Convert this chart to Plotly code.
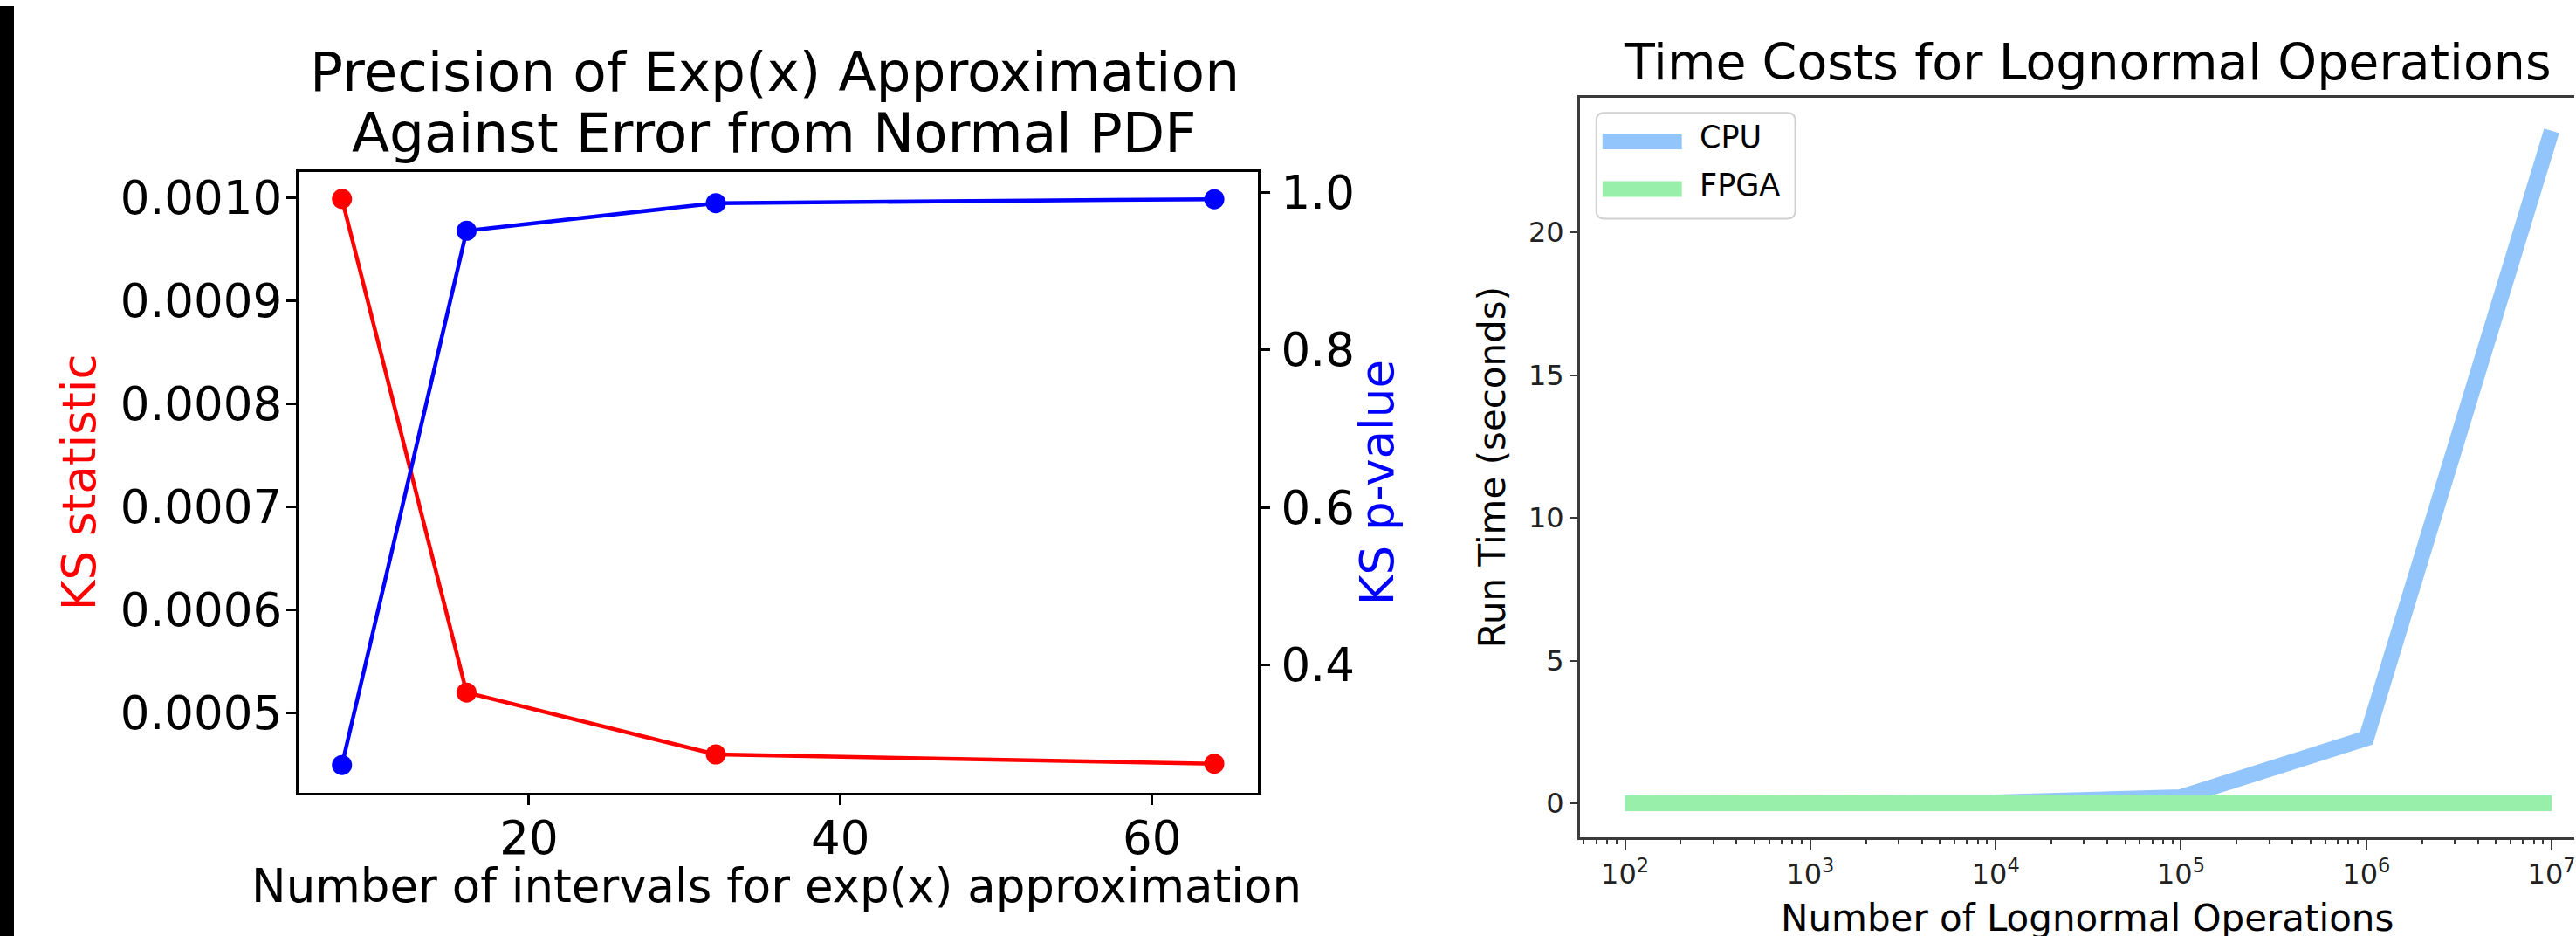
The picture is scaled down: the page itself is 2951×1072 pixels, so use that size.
import plotly.graph_objects as go

W, H = 2951, 1072

# ---------------- data ----------------
# Left chart: precision of exp(x) approximation
intervals = [8, 16, 32, 64]
ks_statistic = [0.000999, 0.000520, 0.000460, 0.000451]
ks_pvalue = [0.273, 0.951, 0.986, 0.991]

left_xticks = [20, 40, 60]
left_yticks = [0.0005, 0.0006, 0.0007, 0.0008, 0.0009, 0.0010]
left_y2ticks = [0.4, 0.6, 0.8, 1.0]

# Right chart: time costs
operations = [1e2, 1e3, 1e4, 1e5, 1e6, 1e7]
cpu_time = [0.0003, 0.003, 0.03, 0.22, 2.28, 23.55]
fpga_time = [0.001, 0.001, 0.001, 0.001, 0.002, 0.004]

ops_tickvals = [1e2, 1e3, 1e4, 1e5, 1e6, 1e7]
ops_ticktext = ["10<sup>2</sup>", "10<sup>3</sup>", "10<sup>4</sup>",
                "10<sup>5</sup>", "10<sup>6</sup>", "10<sup>7</sup>"]
ops_minor = [m * 10 ** e for e in range(1, 8) for m in range(2, 10)]
time_ticks = [0, 5, 10, 15, 20]

# ---------------- style ----------------
FONT = "DejaVu Sans"
RED = "#ff0000"
BLUE = "#0000ff"
CPU_C = "#92c5fc"
FPGA_C = "#98efa9"
SPINE = "#3a3a3a"


def px(x):
    return x / W


def py(y):
    return 1 - y / H


fig = go.Figure()

fig.add_trace(go.Scatter(x=intervals, y=ks_statistic, mode="lines+markers",
                         line=dict(color=RED, width=4.5),
                         marker=dict(color=RED, size=23),
                         xaxis="x", yaxis="y", name="KS statistic"))
fig.add_trace(go.Scatter(x=intervals, y=ks_pvalue, mode="lines+markers",
                         line=dict(color=BLUE, width=4.5),
                         marker=dict(color=BLUE, size=23),
                         xaxis="x", yaxis="y2", name="KS p-value"))

fig.add_trace(go.Scatter(x=operations, y=cpu_time, mode="lines",
                         line=dict(color=CPU_C, width=18),
                         xaxis="x3", yaxis="y3", name="CPU"))
fig.add_trace(go.Scatter(x=operations, y=fpga_time, mode="lines",
                         line=dict(color=FPGA_C, width=18),
                         xaxis="x3", yaxis="y3", name="FPGA"))

left_tick_font = dict(family=FONT, size=53, color="black")
right_tick_font = dict(family=FONT, size=32, color="#222222")

fig.update_layout(
    width=W, height=H,
    margin=dict(l=0, r=0, t=0, b=0),
    paper_bgcolor="white", plot_bgcolor="white",
    showlegend=False,
    font=dict(family=FONT),
    xaxis=dict(domain=[px(342), px(1442)], range=[5.2, 66.8], anchor="y",
               tickmode="array", tickvals=left_xticks,
               ticks="outside", ticklen=11, tickwidth=3, tickcolor="black",
               ticklabelstandoff=-8,
               showline=True, linewidth=3, linecolor="black", mirror=True,
               showgrid=False, zeroline=False, tickfont=left_tick_font),
    yaxis=dict(domain=[py(907), py(191)], range=[0.0004227, 0.0010253], anchor="x",
               tickmode="array", tickvals=left_yticks, tickformat=".4f",
               ticks="outside", ticklen=11, tickwidth=3, tickcolor="black",
               ticklabelstandoff=-6,
               showline=True, linewidth=3, linecolor="black",
               showgrid=False, zeroline=False, tickfont=left_tick_font),
    yaxis2=dict(overlaying="y", side="right", anchor="x",
                range=[0.2377, 1.0258],
                tickmode="array", tickvals=left_y2ticks, tickformat=".1f",
                ticks="outside", ticklen=11, tickwidth=3, tickcolor="black",
                ticklabelstandoff=2,
                showline=True, linewidth=3, linecolor="black",
                showgrid=False, zeroline=False, tickfont=left_tick_font),
    xaxis3=dict(domain=[px(1811), 1.0], type="log", range=[1.756, 7.122], anchor="y3",
                tickmode="array", tickvals=ops_tickvals, ticktext=ops_ticktext,
                ticklabeloverflow="allow",
                ticks="outside", ticklen=12, tickwidth=2, tickcolor=SPINE,
                minor=dict(tickmode="array", tickvals=ops_minor, ticks="outside",
                           ticklen=5, tickwidth=1.5, tickcolor=SPINE, showgrid=False),
                showline=True, linewidth=2.5, linecolor=SPINE, mirror=True,
                showgrid=False, zeroline=False, tickfont=right_tick_font),
    yaxis3=dict(domain=[py(958.6), py(106)], range=[-1.2, 24.7], anchor="x3",
                tickmode="array", tickvals=time_ticks,
                ticks="outside", ticklen=9, tickwidth=2, tickcolor=SPINE,
                showline=True, linewidth=2.5, linecolor=SPINE,
                showgrid=False, zeroline=False, tickfont=right_tick_font),
)

ann = []
# Left titles
ann.append(dict(text="Precision of Exp(x) Approximation", x=px(888), y=py(76),
                font=dict(family=FONT, size=63, color="black")))
ann.append(dict(text="Against Error from Normal PDF", x=px(888), y=py(146),
                font=dict(family=FONT, size=63, color="black")))
ann.append(dict(text="Number of intervals for exp(x) approximation", x=px(890), y=py(1014),
                font=dict(family=FONT, size=53, color="black")))
ann.append(dict(text="KS statistic", x=px(90), y=py(549), textangle=-90,
                font=dict(family=FONT, size=53, color=RED)))
ann.append(dict(text="KS p-value", x=px(1578), y=py(549), textangle=-90,
                font=dict(family=FONT, size=53, color=BLUE)))
# Right titles
ann.append(dict(text="Time Costs for Lognormal Operations", x=px(2393), y=py(64),
                font=dict(family=FONT, size=57, color="black")))
ann.append(dict(text="Number of Lognormal Operations", x=px(2393), y=py(1051),
                font=dict(family=FONT, size=42, color="black")))
ann.append(dict(text="Run Time (seconds)", x=px(1711), y=py(532), textangle=-90,
                font=dict(family=FONT, size=42, color="black")))
# Legend text
ann.append(dict(text="CPU", x=px(1946), y=py(151), xanchor="left",
                font=dict(family=FONT, size=35, color="black")))
ann.append(dict(text="FPGA", x=px(1946), y=py(206), xanchor="left",
                font=dict(family=FONT, size=35, color="black")))

for a in ann:
    a.setdefault("xanchor", "center")
    a.update(xref="paper", yref="paper", yanchor="middle", showarrow=False)
fig.update_layout(annotations=ann)

# Legend box (rounded) and line samples
x0, x1, y0, y1, r = 1830, 2058, 123, 245, 9
path = (f"M {px(x0 + r)},{py(y0)} L {px(x1 - r)},{py(y0)} "
        f"Q {px(x1)},{py(y0)} {px(x1)},{py(y0 + r)} L {px(x1)},{py(y1 - r)} "
        f"Q {px(x1)},{py(y1)} {px(x1 - r)},{py(y1)} L {px(x0 + r)},{py(y1)} "
        f"Q {px(x0)},{py(y1)} {px(x0)},{py(y1 - r)} L {px(x0)},{py(y0 + r)} "
        f"Q {px(x0)},{py(y0)} {px(x0 + r)},{py(y0)} Z")
shapes = [
    dict(type="rect", xref="paper", yref="paper", x0=0, x1=px(16), y0=0, y1=1,
         fillcolor="black", line=dict(width=0)),
    dict(type="path", xref="paper", yref="paper", path=path,
         fillcolor="rgba(255,255,255,0.85)", line=dict(color="#d0d0d0", width=2)),
    dict(type="line", xref="paper", yref="paper", x0=px(1837), x1=px(1928),
         y0=py(156), y1=py(156), line=dict(color=CPU_C, width=18)),
    dict(type="line", xref="paper", yref="paper", x0=px(1837), x1=px(1928),
         y0=py(211), y1=py(211), line=dict(color=FPGA_C, width=18)),
]
fig.update_layout(shapes=shapes)

fig.write_html("out.html",
               config={"displayModeBar": False},
               post_script="document.body.style.margin='0px';"
                           "document.body.style.overflow='hidden';")
